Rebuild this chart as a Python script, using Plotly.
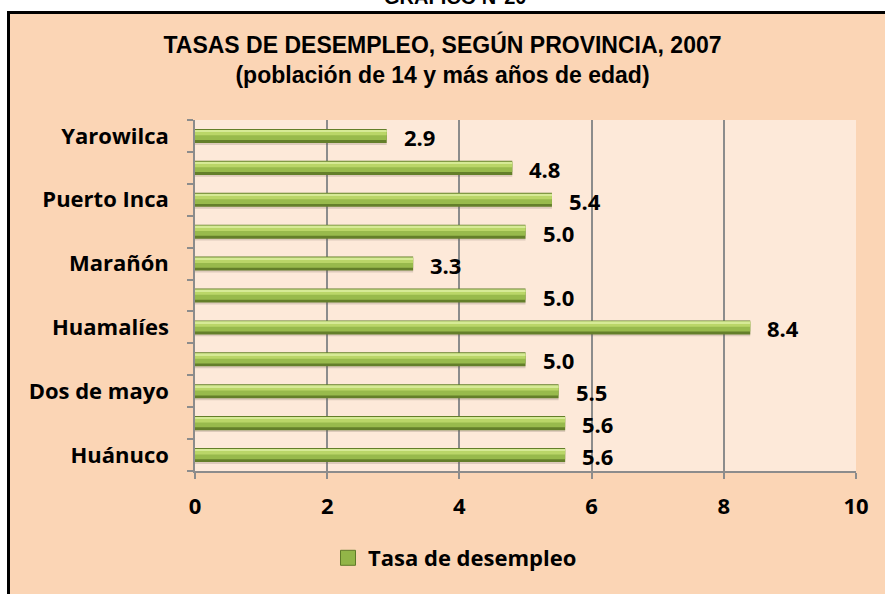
import plotly.graph_objects as go

# ---- data ----
provincias = ["Huánuco", "Ambo", "Dos de mayo", "Huacaybamba", "Huamalíes",
              "Leoncio Prado", "Marañón", "Pachitea", "Puerto Inca",
              "Lauricocha", "Yarowilca"]
tasas = [5.6, 5.6, 5.5, 5.0, 8.4, 5.0, 3.3, 5.0, 5.4, 4.8, 2.9]
# Excel skipped every other category label
etiquetas = [p if i % 2 == 0 else "" for i, p in enumerate(provincias)]
x_ticks = [0, 2, 4, 6, 8, 10]
serie = "Tasa de desempleo"
titulo = "TASAS DE DESEMPLEO, SEGÚN PROVINCIA, 2007"
subtitulo = "(población de 14 y más años de edad)"
grafico = "GRÁFICO N°20"

FONT = "Open Sans"
TFONT = "Liberation Sans"
W, H = 885, 594
ML, MR, MT, MB = 195, 29, 120, 123
PW = W - ML - MR
PH = H - MT - MB

def px_to_paper_x(px):
    return (px - ML) / PW

def px_to_paper_y(py):
    return (H - MB - py) / PH

fig = go.Figure()

# shadow
fig.add_trace(go.Bar(
    y=provincias, x=tasas, orientation="h",
    marker=dict(color="rgba(110,90,80,0.22)", line=dict(width=0)),
    offset=-0.28, width=0.46, showlegend=False, hoverinfo="skip"))
# dark base
fig.add_trace(go.Bar(
    y=provincias, x=tasas, orientation="h",
    marker=dict(color="#647F2A", line=dict(width=0)),
    offset=-0.22, width=0.44, showlegend=False, hoverinfo="skip"))
# mid body
fig.add_trace(go.Bar(
    y=provincias, x=tasas, orientation="h",
    marker=dict(color="#98BA4C", line=dict(width=0)),
    offset=-0.13, width=0.31, showlegend=False, hoverinfo="skip"))
# light upper
fig.add_trace(go.Bar(
    y=provincias, x=tasas, orientation="h",
    marker=dict(color="#BAD668", line=dict(width=0)),
    offset=0.02, width=0.14, showlegend=False, hoverinfo="skip"))
# top highlight
fig.add_trace(go.Bar(
    y=provincias, x=tasas, orientation="h",
    marker=dict(color="#D6EA96", line=dict(width=0)),
    offset=0.13, width=0.06, showlegend=False, hoverinfo="skip"))
# legend entry
fig.add_trace(go.Scatter(
    x=[None], y=[None], mode="markers", name=serie,
    marker=dict(symbol="square", size=15, color="#92B548",
                line=dict(color="#5F7A28", width=1)),
    showlegend=True))

annotations = []
for p, v in zip(provincias, tasas):
    annotations.append(dict(
        x=v, y=p, xref="x", yref="y", text=f"{v:.1f}", showarrow=False,
        xanchor="left", yanchor="middle", xshift=15, yshift=-1,
        font=dict(family=FONT, size=22, color="black", weight="bold")))

annotations.append(dict(
    x=px_to_paper_x(455), y=px_to_paper_y(10), xref="paper", yref="paper",
    text=grafico, showarrow=False, xanchor="center", yanchor="bottom",
    font=dict(family=TFONT, size=20, color="black", weight="bold")))

shapes = [
    dict(type="rect", xref="paper", yref="paper", layer="below",
         x0=px_to_paper_x(8.5), x1=px_to_paper_x(900),
         y0=px_to_paper_y(620), y1=px_to_paper_y(12.5),
         fillcolor="#FBD5B5", line=dict(color="black", width=3)),
    dict(type="rect", xref="x domain", yref="y domain", layer="below",
         x0=0, x1=1, y0=0, y1=1, fillcolor="#FDE9D9", line=dict(width=0)),
]

fig.update_layout(
    width=W, height=H,
    margin=dict(l=ML, r=MR, t=MT, b=MB, autoexpand=False),
    paper_bgcolor="white", plot_bgcolor="rgba(0,0,0,0)",
    barmode="overlay",
    font=dict(family=FONT, size=22, color="black"),
    title=dict(text=f"<b>{titulo}<br>{subtitulo}</b>", x=0.5, xref="container",
               xanchor="center", y=1 - 53 / H, yref="container", yanchor="middle",
               font=dict(family=TFONT, size=23, color="black")),
    xaxis=dict(range=[0, 10], tickvals=x_ticks, ticktext=[str(t) for t in x_ticks],
               showgrid=True, gridcolor="#8C8C8C", gridwidth=1.5,
               showline=True, linecolor="#8C8C8C", linewidth=1.5,
               ticks="outside", ticklen=6, tickcolor="#8C8C8C", tickwidth=1.5,
               zeroline=False, ticklabelstandoff=9,
               tickfont=dict(family=FONT, size=22, color="black", weight="bold")),
    yaxis=dict(type="category", categoryorder="array", categoryarray=provincias,
               range=[-0.5, 10.5], tickvals=provincias, ticktext=etiquetas,
               showgrid=False, showline=True, linecolor="#8C8C8C", linewidth=1.5,
               ticks="outside", ticklen=6, tickcolor="#8C8C8C", tickwidth=1.5,
               tickson="boundaries", ticklabelstandoff=20,
               tickfont=dict(family=FONT, size=22, color="black", weight="bold")),
    legend=dict(orientation="h", x=px_to_paper_x(328), xanchor="left",
                y=px_to_paper_y(558), yanchor="middle", bgcolor="rgba(0,0,0,0)",
                font=dict(family=FONT, size=22, color="black", weight="bold")),
    annotations=annotations,
    shapes=shapes,
    showlegend=True,
)

fig.write_html("out.html", config={"displayModeBar": False},
               post_script="document.body.style.margin='0px';")
